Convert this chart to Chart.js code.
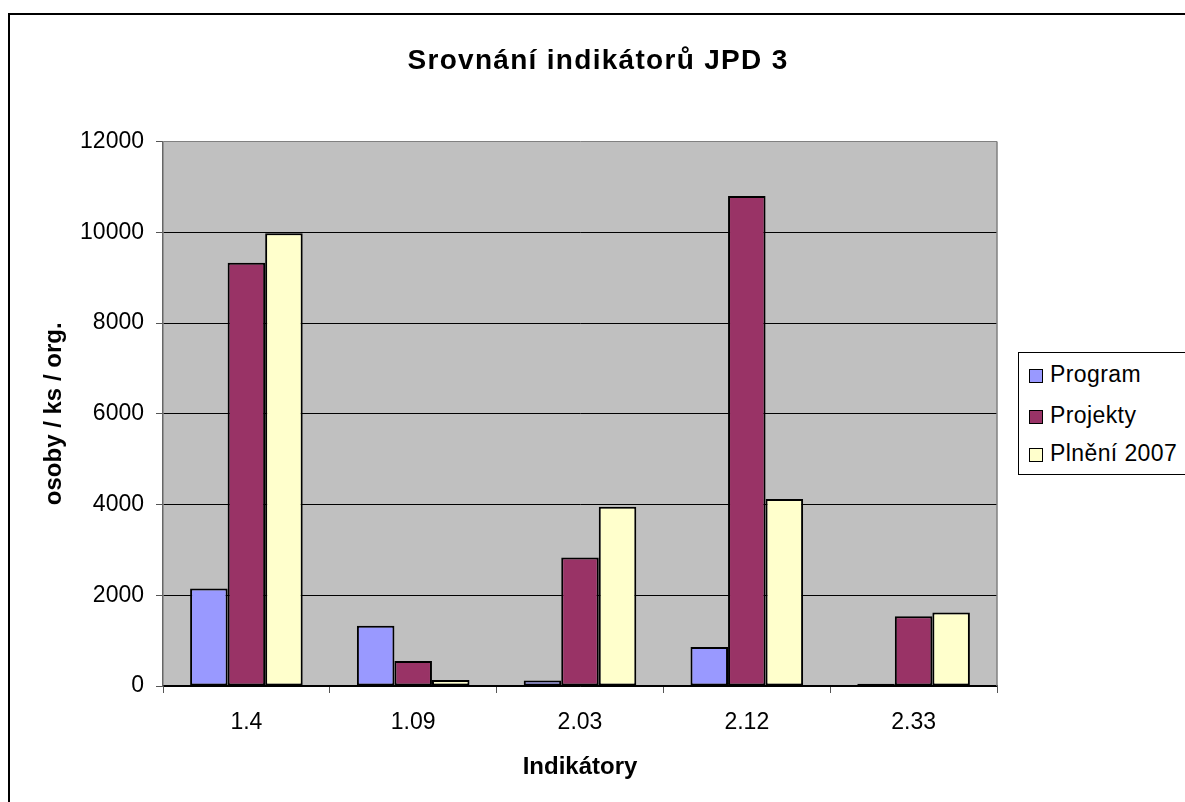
<!DOCTYPE html>
<html>
<head>
<meta charset="utf-8">
<script src="https://cdn.jsdelivr.net/npm/chart.js@4.4.1/dist/chart.umd.min.js"></script>
<style>
  html, body { margin: 0; padding: 0; background: #fff; overflow: hidden; }
  body { width: 1185px; height: 802px; position: relative; font-family: "Liberation Sans", Arial, sans-serif; }
  .frame { position: absolute; left: 8px; top: 13px; width: 1200px; height: 820px; border: 2px solid #000; box-sizing: border-box; }
  canvas { position: absolute; left: 0; top: 0; }
  .legend { position: absolute; left: 1018px; top: 352px; width: 200px; height: 123px; border: 1.5px solid #000; box-sizing: border-box; background: #fff; }
  .legend__item { position: absolute; left: 10px; height: 28px; line-height: 28px; font-size: 23px; color: #000; white-space: nowrap; letter-spacing: 0.4px; }
  .legend__box { display: inline-block; width: 12px; height: 12px; border: 1.5px solid #000; margin-right: 7px; vertical-align: -1px; }
</style>
</head>
<body>
<div class="frame"></div>
<canvas id="chart" width="1185" height="802"></canvas>
<div class="legend" id="legend"></div>
<script>
const CATEGORIES = [`1.4`, `1.09`, `2.03`, `2.12`, `2.33`];
const PROGRAM = [2150, 1330, 120, 860, 50];
const PROJEKTY = [9330, 550, 2830, 10800, 1540];
const PLNENI = [9980, 130, 3950, 4120, 1620];
const Y_TICKS = [0, 2000, 4000, 6000, 8000, 10000, 12000];

const FONT = `"Liberation Sans", Arial, sans-serif`;

// grey plot background + grey right edge, like the old Excel look
const plotArea = {
  id: `plotArea`,
  beforeDraw(chart) {
    const {ctx, chartArea: a} = chart;
    ctx.save();
    ctx.fillStyle = `#c0c0c0`;
    ctx.fillRect(a.left, a.top, a.right - a.left, a.bottom - a.top);
    ctx.restore();
  },
  beforeDatasetsDraw(chart) {
    const {ctx, chartArea: a} = chart;
    ctx.save();
    ctx.strokeStyle = `#808080`;
    ctx.lineWidth = 1.5;
    ctx.beginPath();
    ctx.moveTo(a.right, a.top);
    ctx.lineTo(a.right, a.bottom);
    ctx.stroke();
    ctx.restore();
  },
  afterLayout(chart) {
    // title is centred on the whole frame, not only on the plot part
    const t = chart.titleBlock;
    t.left = 0;
    t.right = 1196;
    t.width = 1196;
  }
};

const chart = new Chart(document.getElementById(`chart`), {
  type: `bar`,
  plugins: [plotArea],
  data: {
    labels: CATEGORIES,
    datasets: [
      {label: `Program`, data: PROGRAM, backgroundColor: `#9999ff`},
      {label: `Projekty`, data: PROJEKTY, backgroundColor: `#993366`},
      {label: `Plnění 2007`, data: PLNENI, backgroundColor: `#ffffcc`}
    ].map((ds) => Object.assign(ds, {
      borderColor: `#000`,
      borderWidth: 2,
      borderSkipped: false,
      barPercentage: 1,
      categoryPercentage: 0.675
    }))
  },
  options: {
    responsive: false,
    animation: false,
    layout: {
      padding: {left: 40, right: 188, top: 0, bottom: 0}
    },
    plugins: {
      legend: {display: false},
      tooltip: {enabled: false},
      title: {
        display: true,
        text: `Srovnání indikátorů JPD 3`,
        color: `#000`,
        font: {family: FONT, size: 28, weight: `bold`},
        padding: {top: 44, bottom: 64}
      }
    },
    scales: {
      x: {
        afterFit: (scale) => {
          scale.height = 116;
        },
        grid: {
          offset: true,
          drawOnChartArea: false,
          tickLength: 7,
          tickColor: `#555`
        },
        border: {color: `#000`, width: 1.5},
        ticks: {
          color: `#000`,
          font: {family: FONT, size: 23},
          padding: 16
        },
        title: {
          display: true,
          text: `Indikátory`,
          color: `#000`,
          font: {family: FONT, size: 24, weight: `bold`},
          padding: {top: 0, bottom: 20}
        }
      },
      y: {
        min: 0,
        max: 12000,
        afterFit: (scale) => {
          scale.width = 123;
        },
        afterBuildTicks: (scale) => {
          scale.ticks = Y_TICKS.map((value) => ({value}));
        },
        grid: {
          color: (c) => (c.tick && c.tick.value === 12000 ? `#808080` : `#000`),
          lineWidth: 1,
          tickLength: 7,
          tickColor: `#555`
        },
        border: {color: `#666`, width: 1.5},
        ticks: {
          color: `#000`,
          font: {family: FONT, size: 23},
          padding: 12,
          callback: (value) => String(value)
        },
        title: {
          display: true,
          text: `osoby / ks / org.`,
          color: `#000`,
          font: {family: FONT, size: 24, weight: `bold`},
          padding: {top: 0, bottom: 0}
        }
      }
    }
  }
});

// a bit of letter spacing on the main title
const titleBox = chart.titleBlock;
const drawTitle = titleBox.draw.bind(titleBox);
titleBox.draw = (area) => {
  chart.ctx.letterSpacing = `1.3px`;
  drawTitle(area);
  chart.ctx.letterSpacing = `0px`;
};
chart.draw();

// legend built from the datasets
const legend = document.getElementById(`legend`);
const ITEM_TOPS = [7, 48, 86];
chart.data.datasets.forEach((ds, i) => {
  const item = document.createElement(`div`);
  item.className = `legend__item`;
  item.style.top = `${ITEM_TOPS[i]}px`;
  item.innerHTML = `<span class="legend__box" style="background:${ds.backgroundColor}"></span>${ds.label}`;
  legend.appendChild(item);
});
</script>
</body>
</html>
